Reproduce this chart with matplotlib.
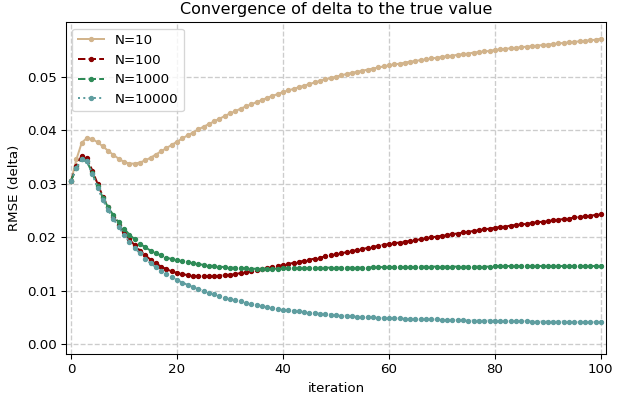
import numpy as np
import matplotlib
matplotlib.use("Agg")
import matplotlib.pyplot as plt

iterations = np.arange(0, 101)

rmse_n10 = [
    0.0306, 0.0346, 0.0377, 0.0386, 0.0384, 0.0378, 0.0370, 0.0362, 0.0354, 0.0347,
    0.0341, 0.0338, 0.0338, 0.0340, 0.0344, 0.0349, 0.0355, 0.0361, 0.0367, 0.0373,
    0.0379, 0.0385, 0.0391, 0.0396, 0.0402, 0.0407, 0.0412, 0.0417, 0.0422, 0.0427,
    0.0432, 0.0436, 0.0441, 0.0445, 0.0449, 0.0453, 0.0457, 0.0461, 0.0465, 0.0468,
    0.0472, 0.0475, 0.0478, 0.0481, 0.0484, 0.0487, 0.0490, 0.0493, 0.0496, 0.0498,
    0.0501, 0.0503, 0.0506, 0.0508, 0.0510, 0.0512, 0.0514, 0.0516, 0.0518, 0.0520,
    0.0522, 0.0524, 0.0525, 0.0527, 0.0529, 0.0530, 0.0532, 0.0533, 0.0535, 0.0536,
    0.0538, 0.0539, 0.0540, 0.0542, 0.0543, 0.0544, 0.0546, 0.0547, 0.0548, 0.0549,
    0.0551, 0.0552, 0.0553, 0.0554, 0.0555, 0.0556, 0.0557, 0.0558, 0.0559, 0.0560,
    0.0561, 0.0562, 0.0563, 0.0564, 0.0565, 0.0566, 0.0567, 0.0568, 0.0569, 0.0570,
    0.0572,
]

rmse_n100 = [
    0.0306, 0.0334, 0.0353, 0.0348, 0.0325, 0.0300, 0.0276, 0.0256, 0.0238, 0.0223,
    0.0209, 0.0196, 0.0185, 0.0175, 0.0166, 0.0158, 0.0151, 0.0145, 0.0140, 0.0136,
    0.0133, 0.0131, 0.0129, 0.0128, 0.0127, 0.0127, 0.0127, 0.0127, 0.0128, 0.0129,
    0.0130, 0.0131, 0.0133, 0.0135, 0.0136, 0.0138, 0.0140, 0.0142, 0.0144, 0.0146,
    0.0148, 0.0150, 0.0152, 0.0154, 0.0156, 0.0158, 0.0160, 0.0162, 0.0164, 0.0166,
    0.0168, 0.0170, 0.0172, 0.0174, 0.0176, 0.0178, 0.0180, 0.0182, 0.0184, 0.0186,
    0.0187, 0.0189, 0.0190, 0.0192, 0.0193, 0.0195, 0.0196, 0.0198, 0.0200, 0.0201,
    0.0203, 0.0204, 0.0206, 0.0207, 0.0209, 0.0210, 0.0212, 0.0213, 0.0215, 0.0216,
    0.0218, 0.0219, 0.0220, 0.0222, 0.0223, 0.0224, 0.0225, 0.0227, 0.0228, 0.0229,
    0.0230, 0.0232, 0.0233, 0.0234, 0.0235, 0.0237, 0.0238, 0.0239, 0.0240, 0.0242,
    0.0243,
]

rmse_n1000 = [
    0.0306, 0.0330, 0.0346, 0.0342, 0.0320, 0.0296, 0.0274, 0.0256, 0.0241, 0.0228,
    0.0216, 0.0205, 0.0196, 0.0188, 0.0181, 0.0175, 0.0170, 0.0166, 0.0162, 0.0159,
    0.0157, 0.0155, 0.0153, 0.0151, 0.0150, 0.0148, 0.0147, 0.0146, 0.0145, 0.0144,
    0.0143, 0.0143, 0.0142, 0.0142, 0.0141, 0.0141, 0.0141, 0.0141, 0.0141, 0.0141,
    0.0142, 0.0142, 0.0142, 0.0142, 0.0142, 0.0142, 0.0142, 0.0143, 0.0143, 0.0143,
    0.0143, 0.0143, 0.0143, 0.0143, 0.0143, 0.0143, 0.0143, 0.0144, 0.0144, 0.0144,
    0.0144, 0.0144, 0.0144, 0.0144, 0.0144, 0.0144, 0.0145, 0.0145, 0.0145, 0.0145,
    0.0145, 0.0145, 0.0145, 0.0145, 0.0145, 0.0145, 0.0145, 0.0145, 0.0145, 0.0145,
    0.0146, 0.0146, 0.0146, 0.0146, 0.0146, 0.0146, 0.0146, 0.0146, 0.0146, 0.0146,
    0.0146, 0.0146, 0.0146, 0.0146, 0.0146, 0.0146, 0.0146, 0.0146, 0.0146, 0.0146,
    0.0146,
]

rmse_n10000 = [
    0.0306, 0.0330, 0.0346, 0.0342, 0.0318, 0.0293, 0.0270, 0.0251, 0.0234, 0.0219,
    0.0205, 0.0192, 0.0180, 0.0170, 0.0160, 0.0151, 0.0144, 0.0137, 0.0131, 0.0125,
    0.0120, 0.0115, 0.0111, 0.0107, 0.0103, 0.0099, 0.0096, 0.0093, 0.0090, 0.0087,
    0.0084, 0.0082, 0.0080, 0.0077, 0.0075, 0.0073, 0.0071, 0.0069, 0.0067, 0.0065,
    0.0064, 0.0063, 0.0062, 0.0061, 0.0060, 0.0059, 0.0058, 0.0057, 0.0056, 0.0055,
    0.0054, 0.0053, 0.0053, 0.0052, 0.0051, 0.0051, 0.0050, 0.0050, 0.0049, 0.0049,
    0.0048, 0.0048, 0.0048, 0.0047, 0.0047, 0.0047, 0.0046, 0.0046, 0.0046, 0.0046,
    0.0045, 0.0045, 0.0045, 0.0045, 0.0045, 0.0044, 0.0044, 0.0044, 0.0044, 0.0044,
    0.0044, 0.0043, 0.0043, 0.0043, 0.0043, 0.0043, 0.0043, 0.0042, 0.0042, 0.0042,
    0.0042, 0.0042, 0.0042, 0.0042, 0.0041, 0.0041, 0.0041, 0.0041, 0.0041, 0.0041,
    0.0041,
]

series = [
    ("N=10", rmse_n10, "tan", "-"),
    ("N=100", rmse_n100, "darkred", "--"),
    ("N=1000", rmse_n1000, "seagreen", "--"),
    ("N=10000", rmse_n10000, "cadetblue", ":"),
]

fig, ax = plt.subplots(figsize=(621 / 96, 402 / 96), dpi=96)

for label, vals, color, ls in series:
    ax.plot(iterations, vals, linestyle=ls, marker=".", markersize=6,
            color=color, linewidth=1.5, label=label)

ax.set_xlim(-1, 101)
ax.set_ylim(-0.0019, 0.0603)
ax.set_xticks([0, 20, 40, 60, 80, 100])
ax.set_yticks([0.0, 0.01, 0.02, 0.03, 0.04, 0.05])
ax.yaxis.set_major_formatter(matplotlib.ticker.FormatStrFormatter("%.2f"))
ax.grid(True, linestyle="--", color="0.8", linewidth=1)
ax.set_title("Convergence of delta to the true value")
ax.set_xlabel("iteration")
ax.set_ylabel("RMSE (delta)")
ax.legend(loc="upper left")

fig.subplots_adjust(left=0.106, right=0.976, top=0.945, bottom=0.119)
fig.savefig("out.png")
